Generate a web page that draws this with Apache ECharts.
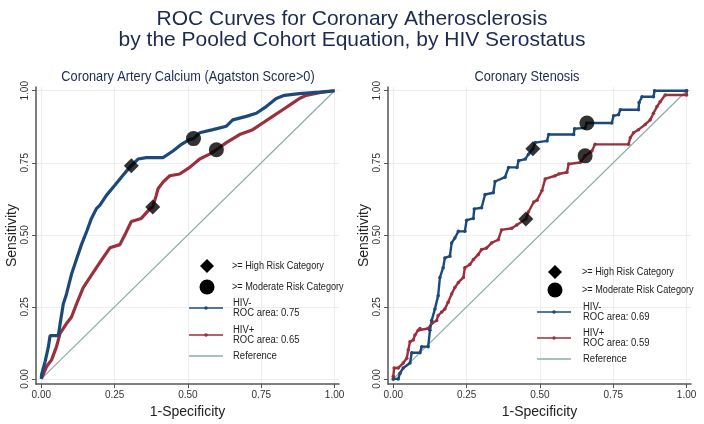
<!DOCTYPE html>
<html>
<head>
<meta charset="utf-8">
<script src="https://cdn.jsdelivr.net/npm/echarts@6.0.0/dist/echarts.min.js"></script>
<style>
html,body{margin:0;padding:0;background:#fff;}
#chart{width:704px;height:424px;}
</style>
</head>
<body>
<div id="chart"></div>
<script>
// ---------------- DATA ----------------
var mainTitle = 'ROC Curves for Coronary Atherosclerosis\nby the Pooled Cohort Equation, by HIV Serostatus';
var panelTitles = ['Coronary Artery Calcium (Agatston Score>0)', 'Coronary Stenosis'];
var xAxisTitle = '1-Specificity';
var yAxisTitle = 'Sensitivity';
var tickValues = [0, 0.25, 0.5, 0.75, 1];

// Coronary Artery Calcium, HIV- (1-specificity, sensitivity)
var cacNeg = [[0,0],[.001,.015],[.013,.06],[.024,.11],[.03,.15],[.058,.15],[.064,.19],[.075,.26],[.086,.295],[.103,.363],[.12,.415],[.137,.466],[.156,.515],[.171,.557],[.188,.591],[.2,.603],[.222,.637],[.25,.671],[.273,.7],[.296,.728],[.307,.74],[.33,.763],[.358,.768],[.415,.768],[.449,.791],[.478,.814],[.506,.831],[.519,.834],[.54,.854],[.585,.865],[.631,.877],[.653,.899],[.699,.911],[.733,.922],[.767,.945],[.801,.973],[.829,.984],[.88,.99],[.948,.995],[1,1]];
// Coronary Artery Calcium, HIV+
var cacPos = [[0,0],[.018,.043],[.035,.066],[.052,.112],[.064,.158],[.086,.192],[.103,.215],[.12,.26],[.143,.317],[.166,.352],[.188,.386],[.211,.421],[.234,.455],[.268,.466],[.285,.5],[.307,.546],[.341,.557],[.37,.59],[.38,.597],[.392,.637],[.398,.66],[.415,.683],[.438,.705],[.472,.711],[.506,.734],[.54,.763],[.574,.78],[.597,.795],[.631,.82],[.676,.848],[.721,.865],[.755,.888],[.789,.911],[.823,.934],[.857,.957],[.88,.973],[.903,.984],[.948,.993],[1,1]];
// Coronary Stenosis, HIV-
var stenNeg = [[0,0],[.017,0],[.023,.02],[.034,.038],[.057,.055],[.063,.091],[.091,.091],[.097,.112],[.119,.112],[.125,.169],[.131,.203],[.142,.243],[.153,.289],[.159,.352],[.17,.386],[.176,.42],[.193,.426],[.199,.472],[.21,.489],[.222,.512],[.244,.512],[.25,.551],[.273,.557],[.276,.59],[.301,.594],[.313,.64],[.341,.646],[.347,.685],[.381,.70],[.393,.734],[.422,.734],[.427,.757],[.45,.763],[.461,.78],[.476,.799],[.484,.82],[.524,.826],[.53,.848],[.615,.848],[.618,.868],[.654,.871],[.66,.888],[.745,.888],[.751,.913],[.768,.917],[.774,.934],[.836,.934],[.838,.959],[.848,.979],[.887,.979],[.891,1],[1,1]];
// Coronary Stenosis, HIV+
var stenPos = [[0,0],[0,.009],[.003,.038],[.017,.038],[.034,.055],[.046,.072],[.051,.1],[.057,.129],[.068,.135],[.074,.152],[.085,.169],[.091,.175],[.119,.175],[.131,.192],[.148,.203],[.153,.22],[.165,.232],[.176,.243],[.187,.266],[.199,.295],[.21,.317],[.222,.335],[.239,.352],[.244,.386],[.261,.397],[.273,.414],[.29,.432],[.301,.449],[.318,.454],[.335,.472],[.358,.483],[.369,.517],[.404,.523],[.421,.534],[.452,.555],[.461,.58],[.479,.614],[.49,.62],[.507,.654],[.518,.694],[.552,.705],[.564,.711],[.592,.717],[.598,.746],[.637,.751],[.654,.774],[.677,.791],[.688,.814],[.802,.814],[.808,.837],[.819,.854],[.836,.865],[.859,.883],[.876,.899],[.887,.922],[.899,.945],[.91,.962],[.927,.985],[1,.985],[1,1]];
// Reference line
var referenceLine = [[0,0],[1,1]];
// Risk category cut points: [HIV-, HIV+]
var cacHigh = [[.307,.74],[.38,.597]];
var cacModerate = [[.519,.834],[.597,.795]];
var stenHigh = [[.476,.799],[.452,.555]];
var stenModerate = [[.66,.888],[.654,.774]];
// Legend texts
var legendHigh = '>= High Risk Category';
var legendModerate = '>= Moderate Risk Category';
var legendNeg = ['HIV-', 'HIV-'];
var legendPos = ['HIV+', 'HIV+'];
var rocAreaNeg = ['ROC area: 0.75', 'ROC area: 0.69'];
var rocAreaPos = ['ROC area: 0.65', 'ROC area: 0.59'];
var legendRef = 'Reference';

// ---------------- STYLE ----------------
var BLUE = '#1b4a7a', RED = '#9b2f3b', REF = '#8aaca5', AXIS = '#555', TITLE = '#1c2a50';
var SANS = '"Liberation Sans", Arial, sans-serif';

var chart = echarts.init(document.getElementById('chart'), null, {renderer: 'canvas'});

function fmt(v) { return v.toFixed(2); }

function xAxisCfg(g) {
  return {
    type: 'value', gridIndex: g, min: -0.018, max: 1.015,
    name: xAxisTitle, nameLocation: 'middle', nameGap: 17,
    nameTextStyle: {fontFamily: SANS, fontSize: 14, color: '#222'},
    axisLine: {show: true, onZero: false, lineStyle: {color: AXIS, width: 1.5}},
    axisTick: {show: true, customValues: tickValues, length: 4, lineStyle: {color: AXIS}},
    axisLabel: {customValues: tickValues, formatter: fmt, margin: 6, fontFamily: SANS, fontSize: 10, color: '#333'},
    splitLine: {show: true, lineStyle: {color: '#ededed', width: 1}}
  };
}
function yAxisCfg(g) {
  return {
    type: 'value', gridIndex: g, min: -0.018, max: 1.013,
    name: yAxisTitle, nameLocation: 'middle', nameGap: 16, nameRotate: 90,
    nameTextStyle: {fontFamily: SANS, fontSize: 14, color: '#222'},
    axisLine: {show: true, onZero: false, lineStyle: {color: AXIS, width: 1.5}},
    axisTick: {show: true, customValues: tickValues, length: 4, lineStyle: {color: AXIS}},
    axisLabel: {customValues: tickValues, formatter: fmt, margin: 6, rotate: 90, fontFamily: SANS, fontSize: 10, color: '#333'},
    splitLine: {show: true, lineStyle: {color: '#ededed', width: 1}}
  };
}

function curve(data, color, g, dots) {
  return {
    type: 'line', xAxisIndex: g, yAxisIndex: g, data: data,
    showSymbol: dots, symbol: 'circle', symbolSize: dots ? 3.5 : 0,
    itemStyle: {color: color}, lineStyle: {color: color, width: dots ? 2.4 : 3.2},
    animation: false, silent: true, z: 3
  };
}
function refSeries(g) {
  return {type: 'line', xAxisIndex: g, yAxisIndex: g, data: referenceLine, showSymbol: false,
    lineStyle: {color: REF, width: 1.2}, animation: false, silent: true, z: 2};
}
function markers(data, sym, size, g) {
  return {type: 'scatter', xAxisIndex: g, yAxisIndex: g, data: data, symbol: sym, symbolSize: size,
    itemStyle: {color: '#000'}, animation: false, silent: true, z: 5};
}

// narrow-looking text via horizontal scaling about the anchor point
function ntext(x, y, s, size, color, align, sx) {
  return {type: 'text', x: x, y: y, scaleX: sx,
    style: {text: s, font: size + 'px ' + SANS, fill: color, verticalAlign: 'middle', align: align}, z: 10};
}

// Legend drawn as graphics
function legendBlock(i, sx, tx, yHigh, yMod, yNeg, yPos, yRef) {
  var lx1 = sx - 18, lx2 = sx + 16;
  return [
    {type: 'polygon', shape: {points: [[sx, yHigh - 7], [sx + 7, yHigh], [sx, yHigh + 7], [sx - 7, yHigh]]}, style: {fill: '#000'}, z: 10},
    ntext(tx, yHigh, legendHigh, 11, '#222', 'left', 0.83),
    {type: 'circle', shape: {cx: sx, cy: yMod, r: 7.5}, style: {fill: '#000'}, z: 10},
    ntext(tx, yMod, legendModerate, 11, '#222', 'left', 0.83),
    {type: 'line', shape: {x1: lx1, y1: yNeg, x2: lx2, y2: yNeg}, style: {stroke: BLUE, lineWidth: 1.5}, z: 10},
    {type: 'circle', shape: {cx: sx - 1, cy: yNeg, r: 1.8}, style: {fill: BLUE}, z: 10},
    ntext(tx + 1, yNeg - 5, legendNeg[i], 10, '#222', 'left', 0.95),
    ntext(tx + 1, yNeg + 5, rocAreaNeg[i], 10, '#222', 'left', 0.95),
    {type: 'line', shape: {x1: lx1, y1: yPos, x2: lx2, y2: yPos}, style: {stroke: RED, lineWidth: 1.5}, z: 10},
    {type: 'circle', shape: {cx: sx - 1, cy: yPos, r: 1.8}, style: {fill: RED}, z: 10},
    ntext(tx + 1, yPos - 5, legendPos[i], 10, '#222', 'left', 0.95),
    ntext(tx + 1, yPos + 5, rocAreaPos[i], 10, '#222', 'left', 0.95),
    {type: 'line', shape: {x1: lx1, y1: yRef, x2: lx2, y2: yRef}, style: {stroke: REF, lineWidth: 1.5}, z: 10},
    ntext(tx + 1, yRef, legendRef, 10, '#222', 'left', 0.95)
  ];
}

var option = {
  backgroundColor: '#fff',
  title: [
    {text: mainTitle, left: 'center', top: 4,
      textStyle: {fontFamily: SANS, fontSize: 21, lineHeight: 21, fontWeight: 'normal', color: TITLE}}
  ],
  grid: [
    {left: 36, top: 87, width: 303, height: 301, containLabel: false},
    {left: 388, top: 87, width: 303, height: 301, containLabel: false}
  ],
  xAxis: [xAxisCfg(0), xAxisCfg(1)],
  yAxis: [yAxisCfg(0), yAxisCfg(1)],
  series: [
    refSeries(0),
    curve(cacPos, RED, 0, false),
    curve(cacNeg, BLUE, 0, false),
    markers(cacHigh, 'diamond', 15, 0),
    markers(cacModerate, 'circle', 15, 0),
    refSeries(1),
    curve(stenPos, RED, 1, true),
    curve(stenNeg, BLUE, 1, true),
    markers(stenHigh, 'diamond', 15, 1),
    markers(stenModerate, 'circle', 15, 1)
  ],
  graphic: [
    ntext(188, 77, panelTitles[0], 15, TITLE, 'center', 0.85),
    ntext(527, 77, panelTitles[1], 15, TITLE, 'center', 0.85)
  ].concat(legendBlock(0, 207, 232, 266, 287, 308, 335, 356))
   .concat(legendBlock(1, 555, 582, 272, 290, 312, 338, 359))
};
chart.setOption(option);
</script>
</body>
</html>
